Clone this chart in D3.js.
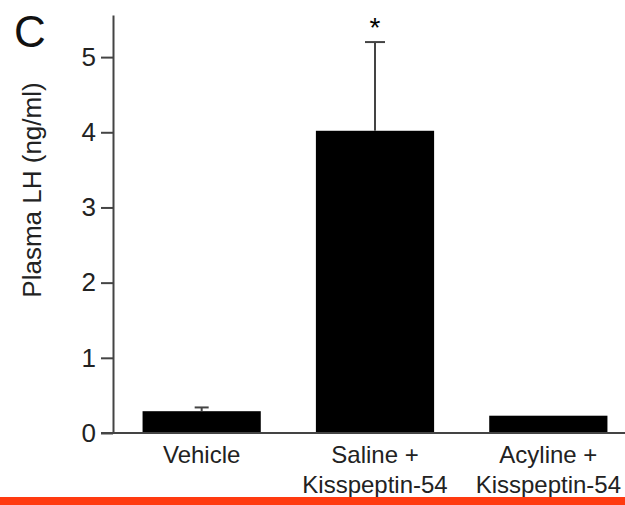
<!DOCTYPE html>
<html>
<head>
<meta charset="utf-8">
<script src="https://cdn.jsdelivr.net/npm/d3@7"></script>
<style>
  body { margin: 0; background: #fff; }
  text { font-family: "Liberation Sans", Arial, sans-serif; fill: #222; }
</style>
</head>
<body>
<script>
var groups = ["Vehicle", "Saline + Kisspeptin-54", "Acyline + Kisspeptin-54"];
var groupLines = [["Vehicle"], ["Saline +", "Kisspeptin-54"], ["Acyline +", "Kisspeptin-54"]];
var means = [0.29, 4.02, 0.23];
var errors = [0.05, 1.18, 0];
var yTicks = [0, 1, 2, 3, 4, 5];
var signif = ["", "*", ""];

var width = 625, height = 505;
var svg = d3.select("body").append("svg").attr("width", width).attr("height", height);

var x = d3.scaleBand().domain(groups).range([115, 635]).paddingInner(0.318).paddingOuter(0.159);
var y = d3.scaleLinear().domain([0, 5.56]).range([433, 15]);

// bars
svg.selectAll(".bar").data(groups).enter().append("rect")
    .attr("class", "bar")
    .attr("x", function (d) { return x(d); })
    .attr("y", function (d, i) { return y(means[i]); })
    .attr("width", x.bandwidth())
    .attr("height", function (d, i) { return y(0) - y(means[i]); })
    .attr("fill", "#000");

// error bars (upper only)
groups.forEach(function (g, i) {
    if (errors[i] <= 0) return;
    var cx = x(g) + x.bandwidth() / 2;
    var capW = i == 0 ? 14 : 20;
    svg.append("line")
        .attr("x1", cx).attr("x2", cx)
        .attr("y1", y(means[i])).attr("y2", y(means[i] + errors[i]))
        .attr("stroke", "#444").attr("stroke-width", 2);
    svg.append("line")
        .attr("x1", cx - capW / 2).attr("x2", cx + capW / 2)
        .attr("y1", y(means[i] + errors[i])).attr("y2", y(means[i] + errors[i]))
        .attr("stroke", "#444").attr("stroke-width", 2);
    if (signif[i]) {
        svg.append("text")
            .attr("x", cx).attr("y", y(means[i] + errors[i]) - 5)
            .attr("text-anchor", "middle")
            .style("font-size", "28px")
            .style("fill", "#000")
            .text(signif[i]);
    }
});

// y axis
var yAxis = svg.append("g")
    .attr("transform", "translate(113,0)")
    .call(d3.axisLeft(y).tickValues(yTicks).tickFormat(d3.format("d")).tickSize(12).tickSizeOuter(0).tickPadding(5));
yAxis.select(".domain").attr("stroke", "#444").attr("stroke-width", 2);
yAxis.selectAll(".tick line").attr("stroke", "#444").attr("stroke-width", 2);
yAxis.selectAll(".tick text").style("font-size", "26px").style("font-family", "Liberation Sans, Arial, sans-serif").attr("fill", "#222");

// x axis line
svg.append("line")
    .attr("x1", 101).attr("x2", width)
    .attr("y1", y(0)).attr("y2", y(0))
    .attr("stroke", "#444").attr("stroke-width", 2);

// x labels
var xAxis = svg.append("g")
    .attr("transform", "translate(0," + y(0) + ")")
    .call(d3.axisBottom(x).tickSize(0).tickFormat(""));
xAxis.select(".domain").remove();
xAxis.selectAll(".tick").each(function (d, i) {
    var t = d3.select(this).append("text")
        .attr("text-anchor", "middle")
        .style("font-size", "24px")
        .attr("fill", "#222");
    groupLines[i].forEach(function (line, j) {
        t.append("tspan").attr("x", 0).attr("y", 30 + j * 30).text(line);
    });
});

// y label
svg.append("text")
    .attr("transform", "translate(41," + 190 + ") rotate(-90)")
    .attr("text-anchor", "middle")
    .style("font-size", "26px")
    .text("Plasma LH (ng/ml)");

// panel letter
svg.append("text")
    .attr("x", 14).attr("y", 47)
    .style("font-size", "44px")
    .style("fill", "#111")
    .text("C");

// red bar at bottom
svg.append("rect")
    .attr("x", 0).attr("y", 497)
    .attr("width", width).attr("height", 8)
    .attr("fill", "#ff3a10");
</script>
</body>
</html>
